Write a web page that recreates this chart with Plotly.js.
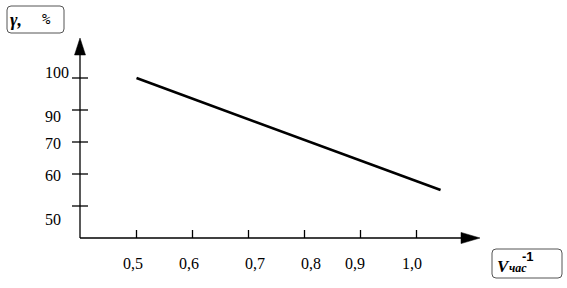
<!DOCTYPE html>
<html><head><meta charset="utf-8">
<script src="https://cdn.plot.ly/plotly-3.0.1.min.js"></script>
<style>html,body{margin:0;padding:0;background:#fff}#chart{width:567px;height:288px}</style>
</head><body><div id="chart"></div>
<script>
// Data
const xTickValues = [0.5, 0.6, 0.7, 0.8, 0.9, 1.0];
const xTickLabels = ['0,5', '0,6', '0,7', '0,8', '0,9', '1,0'];
const yTickLabels = ['50', '60', '70', '90', '100'];
const velocity = [0.5, 1.043];
const gamma = [100, 55];

// Style offsets (px, positive = down / right) for labels as drawn in the original
const xLabelShift = [-3.5, -3.5, 6, 6, -5.5, -5];
const yLabelShift = [13, 1, 1, 6, -6];

// map gamma value onto evenly spaced (non-linear) tick positions 1..N
const yNums = yTickLabels.map(Number);
function gammaToPos(g) {
  for (let i = 0; i < yNums.length - 1; i++) {
    if (g >= yNums[i] && g <= yNums[i + 1]) {
      return (i + 1) + (g - yNums[i]) / (yNums[i + 1] - yNums[i]);
    }
  }
  return g < yNums[0] ? 1 : yNums.length;
}
const yPos = gamma.map(gammaToPos);
const yTickPos = yTickLabels.map((_, i) => i + 1);

const serif = "Liberation Serif";
const shapes = [];
const annotations = [];
const ppx = x => (x - 80) / 400, ppy = y => (238 - y) / 200;
const ypix = p => 206 - (p - 1) * 32;

// axes lines
shapes.push({type: 'line', xref: 'paper', yref: 'paper', x0: 0, y0: 0, x1: 0.96, y1: 0, line: {color: '#000', width: 1.3}});
shapes.push({type: 'line', xref: 'paper', yref: 'paper', x0: 0, y0: 0, x1: 0, y1: 0.93, line: {color: '#000', width: 1.3}});
// arrow heads
shapes.push({type: 'path', xref: 'paper', yref: 'paper', path: 'M 1 0 L 0.9525 0.028 L 0.9525 -0.028 Z', fillcolor: '#000', line: {color: '#000', width: 0.5}});
shapes.push({type: 'path', xref: 'paper', yref: 'paper', path: 'M 0 1 L 0.01375 0.915 L -0.01375 0.915 Z', fillcolor: '#000', line: {color: '#000', width: 0.5}});

// y ticks
yTickPos.forEach((p, i) => {
  shapes.push({type: 'line', xref: 'paper', yref: 'y', x0: -0.02, x1: 0.02, y0: p, y1: p, line: {color: '#000', width: 1.3}});
  annotations.push({xref: 'paper', yref: 'paper', x: ppx(43), y: ppy(ypix(p) + yLabelShift[i]), xanchor: 'left', yanchor: 'middle',
    text: yTickLabels[i], showarrow: false, font: {family: serif, size: 16, color: '#000'}});
});
// x ticks
xTickValues.forEach((v, i) => {
  shapes.push({type: 'line', xref: 'x', yref: 'paper', x0: v, x1: v, y0: 0, y1: 0.04, line: {color: '#000', width: 1.3}});
  annotations.push({xref: 'x', yref: 'paper', x: v, y: ppy(263), xanchor: 'center', yanchor: 'middle', xshift: xLabelShift[i],
    text: xTickLabels[i], showarrow: false, font: {family: serif, size: 16, color: '#000'}});
});

// rounded label boxes
function roundRect(x0, y0, x1, y1) {
  const r = 4;
  return 'M ' + ppx(x0 + r) + ' ' + ppy(y0) +
    ' L ' + ppx(x1 - r) + ' ' + ppy(y0) + ' Q ' + ppx(x1) + ' ' + ppy(y0) + ' ' + ppx(x1) + ' ' + ppy(y0 + r) +
    ' L ' + ppx(x1) + ' ' + ppy(y1 - r) + ' Q ' + ppx(x1) + ' ' + ppy(y1) + ' ' + ppx(x1 - r) + ' ' + ppy(y1) +
    ' L ' + ppx(x0 + r) + ' ' + ppy(y1) + ' Q ' + ppx(x0) + ' ' + ppy(y1) + ' ' + ppx(x0) + ' ' + ppy(y1 - r) +
    ' L ' + ppx(x0) + ' ' + ppy(y0 + r) + ' Q ' + ppx(x0) + ' ' + ppy(y0) + ' ' + ppx(x0 + r) + ' ' + ppy(y0) + ' Z';
}
shapes.push({type: 'path', xref: 'paper', yref: 'paper', path: roundRect(7, 6, 64, 33), line: {color: '#555', width: 1}});
shapes.push({type: 'path', xref: 'paper', yref: 'paper', path: roundRect(492, 249, 562, 278), line: {color: '#555', width: 1}});

annotations.push({xref: 'paper', yref: 'paper', x: ppx(8), y: ppy(20), xanchor: 'left', yanchor: 'middle',
  text: '<b><i>γ,</i></b>', showarrow: false, font: {family: serif, size: 18, color: '#000'}});
annotations.push({xref: 'paper', yref: 'paper', x: ppx(40), y: ppy(19), xanchor: 'left', yanchor: 'middle',
  text: '%', showarrow: false, font: {family: 'DejaVu Sans Mono', size: 14, color: '#000'}});
annotations.push({xref: 'paper', yref: 'paper', x: ppx(495), y: ppy(266), xanchor: 'left', yanchor: 'middle',
  text: '<b><i>V</i></b>', showarrow: false, font: {family: serif, size: 17, color: '#000'}});
annotations.push({xref: 'paper', yref: 'paper', x: ppx(507), y: ppy(268), xanchor: 'left', yanchor: 'middle',
  text: '<b><i>час</i></b>', showarrow: false, font: {family: serif, size: 12, color: '#000'}});
annotations.push({xref: 'paper', yref: 'paper', x: ppx(520), y: ppy(256), xanchor: 'left', yanchor: 'middle',
  text: '<b>-1</b>', showarrow: false, font: {family: 'Liberation Sans', size: 13, color: '#000'}});

const trace = {
  x: velocity, y: yPos, type: 'scatter', mode: 'lines',
  line: {color: '#000', width: 2.6}, hoverinfo: 'skip'
};

const layout = {
  width: 567, height: 288,
  margin: {l: 80, r: 87, t: 38, b: 50, pad: 0},
  paper_bgcolor: '#fff', plot_bgcolor: '#fff',
  font: {family: serif, color: '#000'},
  showlegend: false,
  xaxis: {range: [0.5 - 56.5 / 560, 0.5 + 343.5 / 560], showgrid: false, zeroline: false, showline: false, showticklabels: false, ticks: '', fixedrange: true},
  yaxis: {range: [0, 6.25], showgrid: false, zeroline: false, showline: false, showticklabels: false, ticks: '', fixedrange: true},
  shapes: shapes,
  annotations: annotations
};

Plotly.newPlot('chart', [trace], layout, {staticPlot: true, displayModeBar: false});
</script>
</body></html>
